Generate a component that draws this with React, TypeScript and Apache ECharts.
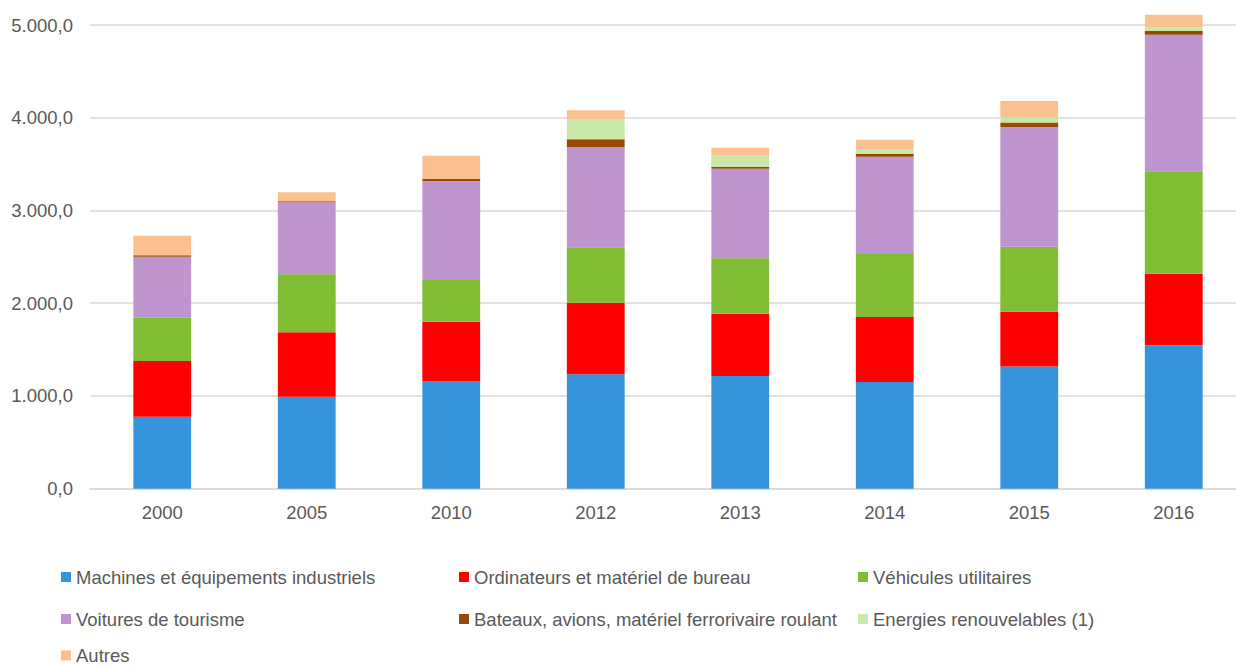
import React, { useEffect, useRef } from "react";
import * as echarts from "echarts";

const categories = ["2000", "2005", "2010", "2012", "2013", "2014", "2015", "2016"];
const machines = [776, 992, 1161, 1233, 1215, 1150, 1319, 1546];
const ordinateurs = [601, 694, 640, 772, 672, 701, 589, 772];
const vehicules = [467, 626, 449, 598, 597, 680, 701, 1104];
const voitures = [657, 776, 1068, 1078, 966, 1049, 1291, 1473];
const bateaux = [15, 12, 21, 86, 18, 32, 50, 40];
const energies = [0, 0, 0, 219, 127, 51, 50, 39];
const autres = [212, 96, 251, 96, 82, 100, 180, 137];

const seriesNames = [
  "Machines et équipements industriels",
  "Ordinateurs et matériel de bureau",
  "Véhicules utilitaires",
  "Voitures de tourisme",
  "Bateaux, avions, matériel ferrorivaire roulant",
  "Energies renouvelables (1)",
  "Autres",
];
const seriesData = [machines, ordinateurs, vehicules, voitures, bateaux, energies, autres];
const colors = ["#3594DC", "#FF0000", "#80BD33", "#BF95CF", "#984807", "#C9E7A7", "#FAC090"];

const textColor = "#595959";
const fontFamily = "'Liberation Sans', Arial, sans-serif";
const fontSize = 18.5;

function fmt(v: number): string {
  const s = Math.round(v).toString().replace(/\B(?=(\d{3})+(?!\d))/g, ".");
  return s + ",0";
}

export default function App() {
  const ref = useRef<HTMLDivElement>(null);
  useEffect(() => {
    if (!ref.current) return;
    document.body.style.overflow = "hidden";
    const chart = echarts.init(ref.current, undefined, { renderer: "svg" });
    const legendCommon = {
      orient: "vertical" as const,
      padding: 0,
      itemWidth: 10,
      itemHeight: 10,
      itemGap: 22,
      icon: "rect",
      textStyle: { color: textColor, fontFamily, fontSize, lineHeight: 20 },
    };
    chart.setOption({
      animation: false,
      backgroundColor: "#ffffff",
      grid: { left: 90, right: 0, top: 25, bottom: 179.3, containLabel: false },
      legend: [
        { ...legendCommon, left: 61, top: 567, data: [seriesNames[0], seriesNames[3]] },
        {
          ...legendCommon,
          left: 61,
          top: 646,
          textStyle: { ...legendCommon.textStyle, lineHeight: 14 },
          data: [seriesNames[6]],
        },
        { ...legendCommon, left: 459, top: 567, data: [seriesNames[1], seriesNames[4]] },
        { ...legendCommon, left: 858, top: 567, data: [seriesNames[2], seriesNames[5]] },
      ],
      xAxis: {
        type: "category",
        data: categories,
        axisLine: { show: true, lineStyle: { color: "#D9D9D9", width: 1.5 } },
        axisTick: { show: false },
        axisLabel: { color: textColor, fontFamily, fontSize, margin: 14 },
      },
      yAxis: {
        type: "value",
        min: 0,
        max: 5000,
        interval: 1000,
        axisLine: { show: false },
        axisTick: { show: false },
        splitLine: { lineStyle: { color: "#D9D9D9", width: 1.5 } },
        axisLabel: {
          color: textColor,
          fontFamily,
          fontSize,
          margin: 17,
          formatter: (v: number) => fmt(v),
        },
      },
      series: seriesNames.map((name, i) => ({
        name,
        type: "bar",
        stack: "total",
        barWidth: "40%",
        clip: false,
        data: seriesData[i],
        itemStyle: { color: colors[i] },
      })),
    });
    return () => chart.dispose();
  }, []);
  return (
    <div
      ref={ref}
      style={{ position: "fixed", left: 0, top: 0, width: 1246, height: 668 }}
    />
  );
}
